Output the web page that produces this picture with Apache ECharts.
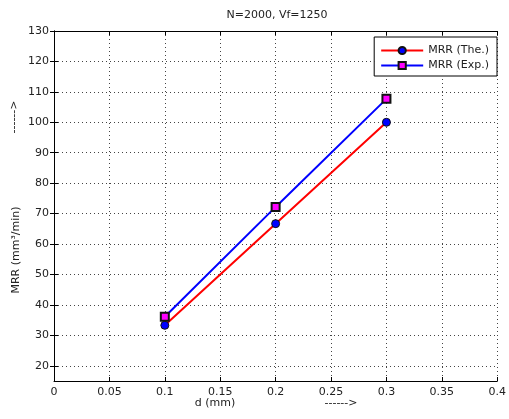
<!DOCTYPE html>
<html>
<head>
<meta charset="utf-8">
<script src="https://cdn.jsdelivr.net/npm/echarts@6/dist/echarts.min.js"></script>
<style>
html,body{margin:0;padding:0;background:#fff;}
#chart{width:509px;height:419px;}
</style>
</head>
<body>
<div id="chart"></div>
<script>
var depth=[0.1,0.2,0.3];
var mrrThe=[33.3,66.7,100];
var mrrExp=[36.1,72.2,107.7];
var yTicks=[20,30,40,50,60,70,80,90,100,110,120,130];
var font='DejaVu Sans';

function pairs(xs,ys){
	var out=[];
	for(var i=0;i<xs.length;i++){ out.push([xs[i],ys[i]]); }
	return out;
}

var chart=echarts.init(document.getElementById('chart'));
var option={
	animation:false,
	backgroundColor:'#fff',
	textStyle:{fontFamily:font},
	grid:{left:54,right:8,top:31,bottom:38},
	graphic:[
		{type:'text',x:277,y:15,style:{text:'N=2000, Vf=1250',font:'11px '+font,fill:'#222',textAlign:'center',textVerticalAlign:'middle'}},
		{type:'text',x:215,y:403,style:{text:'d (mm)',font:'11px '+font,fill:'#222',textAlign:'center',textVerticalAlign:'middle'}},
		{type:'text',x:341,y:403,style:{text:'------>',font:'11px '+font,fill:'#222',textAlign:'center',textVerticalAlign:'middle'}},
		{type:'text',x:16,y:250,rotation:Math.PI/2,style:{text:'MRR (mm³/min)',font:'11px '+font,fill:'#222',textAlign:'center',textVerticalAlign:'middle'}},
		{type:'text',x:14,y:117,rotation:Math.PI/2,style:{text:'------>',font:'11px '+font,fill:'#222',textAlign:'center',textVerticalAlign:'middle'}}
	],
	legend:{
		right:12,top:37,orient:'vertical',
		backgroundColor:'#fff',borderColor:'#000',borderWidth:1,borderRadius:0,
		padding:[8,8,5,6],itemGap:4,itemWidth:42,itemHeight:9,
		textStyle:{fontSize:11,color:'#222',fontFamily:font},
		data:['MRR (The.)','MRR (Exp.)']
	},
	xAxis:[{
		type:'value',min:0,max:0.4,interval:0.05,
		axisLine:{lineStyle:{color:'#000',width:1}},
		axisTick:{inside:true,length:4,lineStyle:{color:'#000'}},
		axisLabel:{color:'#222',fontSize:11,margin:6,fontFamily:font},
		splitLine:{show:true,lineStyle:{color:'#444',type:[1,3],width:1}}
	},{
		type:'value',position:'top',min:0,max:0.4,interval:0.05,
		axisLine:{lineStyle:{color:'#000',width:1}},
		axisTick:{inside:true,length:4,lineStyle:{color:'#000'}},
		axisLabel:{show:false},splitLine:{show:false}
	}],
	yAxis:[{
		type:'value',min:15,max:130,
		axisLine:{show:true,lineStyle:{color:'#000',width:1}},
		axisTick:{show:true,inside:true,length:4,customValues:yTicks,lineStyle:{color:'#000'}},
		axisLabel:{color:'#222',fontSize:11,margin:5,customValues:yTicks,fontFamily:font},
		splitLine:{show:true,lineStyle:{color:'#444',type:[1,3],width:1}}
	},{
		type:'value',position:'right',min:15,max:130,
		axisLine:{show:true,lineStyle:{color:'#000',width:1}},
		axisTick:{show:true,inside:true,length:4,customValues:yTicks,lineStyle:{color:'#000'}},
		axisLabel:{show:false},splitLine:{show:false}
	}],
	series:[{
		name:'MRR (The.)',type:'line',
		data:pairs(depth,mrrThe),
		symbol:'circle',symbolSize:8,
		lineStyle:{color:'#ff0000',width:2},
		itemStyle:{color:'#0000ff',borderColor:'#111',borderWidth:1}
	},{
		name:'MRR (Exp.)',type:'line',
		data:pairs(depth,mrrExp),
		symbol:'rect',symbolSize:8,
		lineStyle:{color:'#0000ff',width:2},
		itemStyle:{color:'#ff00ff',borderColor:'#111',borderWidth:2}
	}]
};
chart.setOption(option);
</script>
</body>
</html>
